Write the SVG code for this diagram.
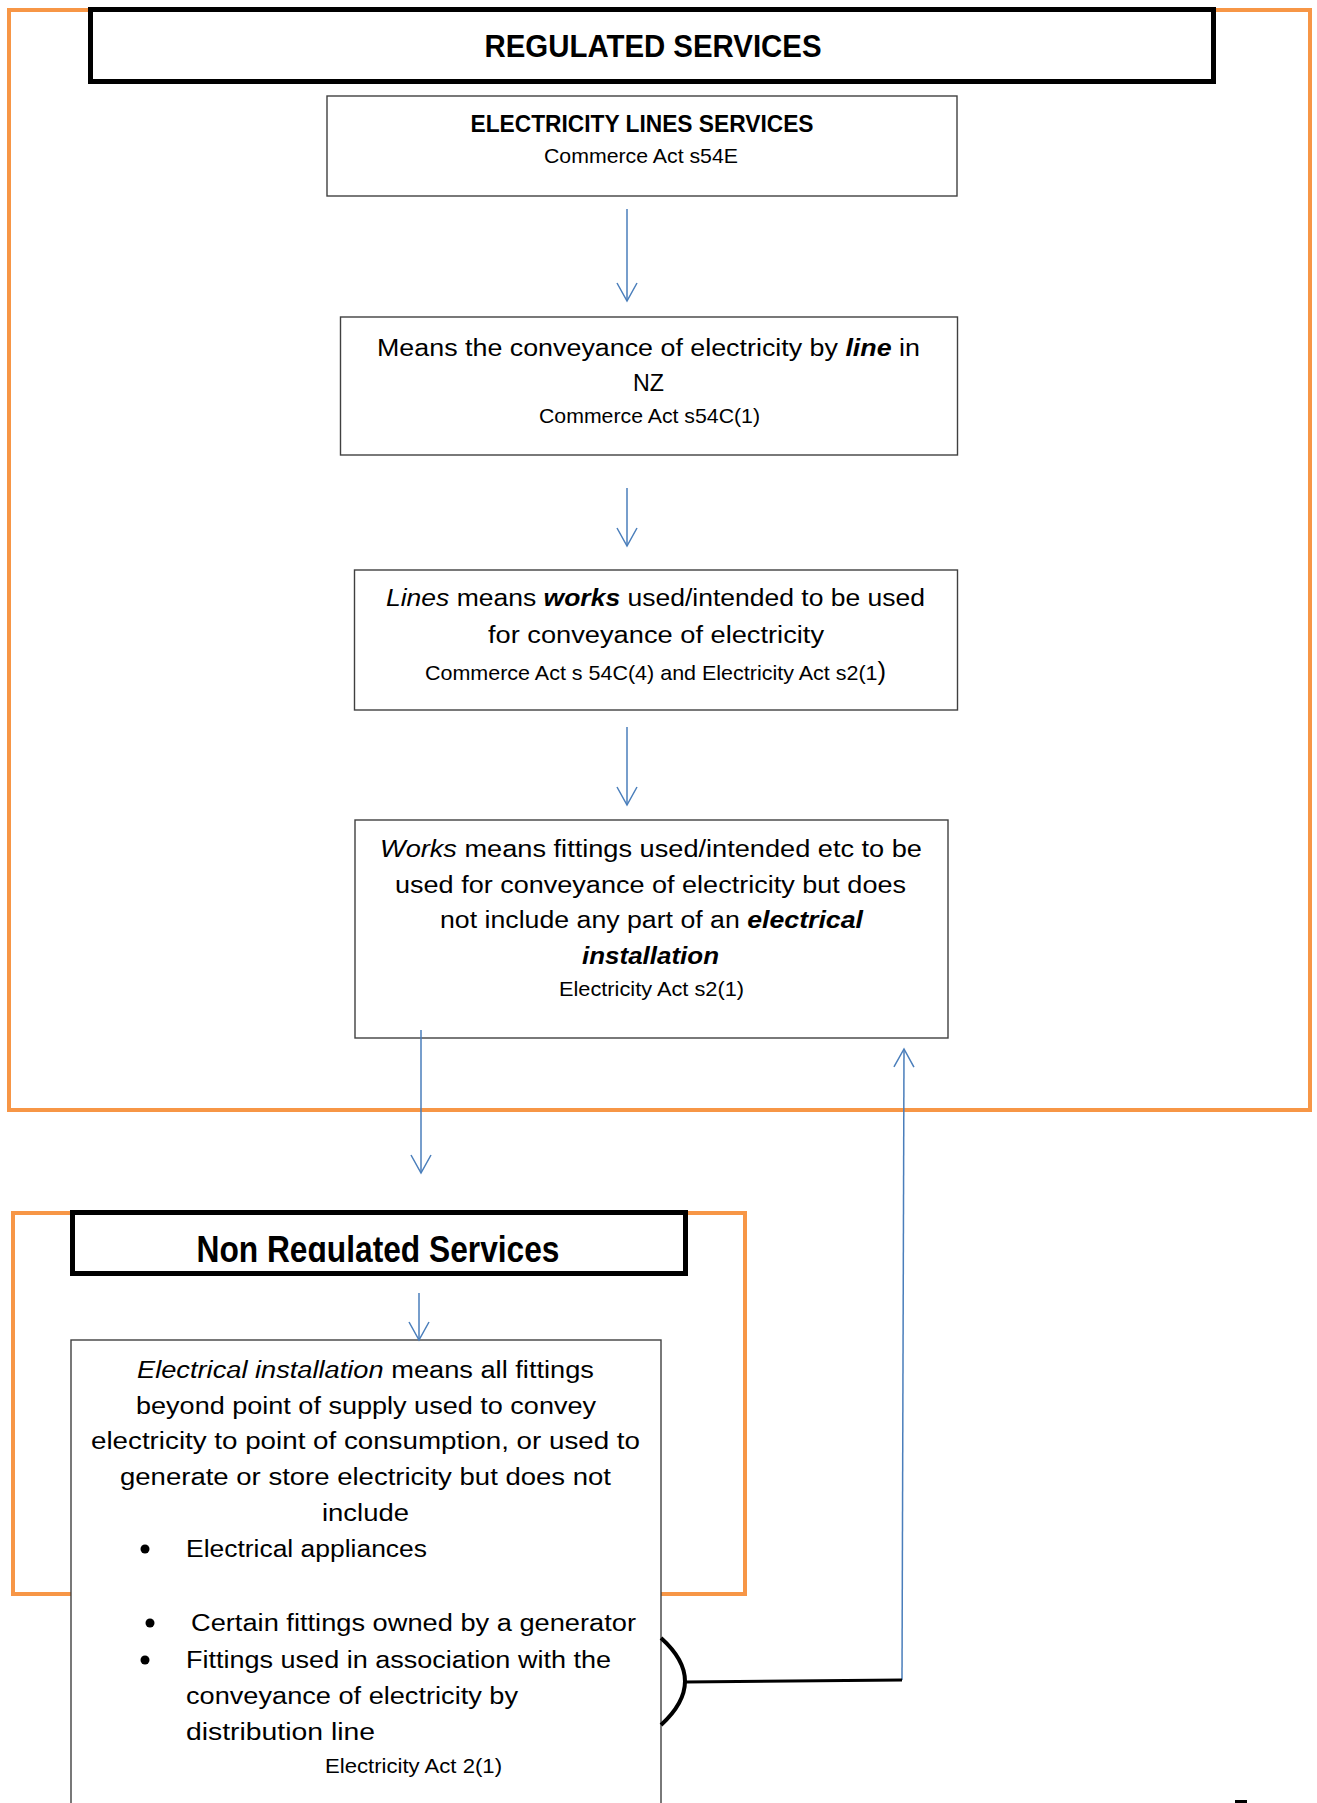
<svg xmlns="http://www.w3.org/2000/svg" width="1317" height="1803" viewBox="0 0 1317 1803">
<style>
text{font-family:"Liberation Sans",Arial,sans-serif;fill:#000}
.m{font-size:23.5px}
.s{font-size:21px}
.t{font-size:31px;font-weight:bold}
.h{font-size:24px;font-weight:bold}
.nr{font-size:37px;font-weight:bold}
.c{text-anchor:middle}
.i{font-style:italic}
.bi{font-style:italic;font-weight:bold}
.frame{fill:none;stroke:#F79646;stroke-width:4}
.title{fill:#fff;stroke:#000;stroke-width:5}
.box{fill:#fff;stroke:#404040;stroke-width:1.4}
.arr{fill:none;stroke:#4A7EBB;stroke-width:1.5;marker-end:url(#ah)}
</style>
<defs>
<marker id="ah" markerUnits="userSpaceOnUse" markerWidth="26" markerHeight="26" viewBox="-22 -13 26 26" refX="0" refY="0" orient="auto">
<path d="M-18,-10 L0,0 L-18,10" fill="none" stroke="#4A7EBB" stroke-width="1.5"/>
</marker>
<clipPath id="nrclip"><rect x="71" y="1211" width="616" height="51"/></clipPath>
</defs>
<rect width="1317" height="1803" fill="#fff"/>

<g id="regulated-frame">
<rect class="frame" x="9" y="10" width="1301" height="1100"/>
</g>
<g id="nonregulated-frame">
<rect class="frame" x="13" y="1213" width="732" height="381"/>
</g>

<g id="regulated-title">
<rect class="title" x="90.5" y="9.5" width="1123" height="72"/>
<text class="t c" x="653" y="57" textLength="337" lengthAdjust="spacingAndGlyphs">REGULATED SERVICES</text>
</g>

<g id="node-els">
<rect class="box" x="327" y="96" width="630" height="100"/>
<text class="h c" x="642" y="132" textLength="343" lengthAdjust="spacingAndGlyphs">ELECTRICITY LINES SERVICES</text>
<text class="s c" x="641" y="163" textLength="194" lengthAdjust="spacingAndGlyphs">Commerce Act s54E</text>
</g>

<g id="node-means">
<rect class="box" x="340.5" y="317" width="617" height="138"/>
<text class="m c" x="648.5" y="356" textLength="543" lengthAdjust="spacingAndGlyphs">Means the conveyance of electricity by <tspan class="bi">line</tspan> in</text>
<text class="m c" x="648.5" y="391" textLength="31" lengthAdjust="spacingAndGlyphs">NZ</text>
<text class="s c" x="649.5" y="423" textLength="221" lengthAdjust="spacingAndGlyphs">Commerce Act s54C(1)</text>
</g>

<g id="node-lines">
<rect class="box" x="354.5" y="570" width="603" height="140"/>
<text class="m c" x="655.5" y="606" textLength="539" lengthAdjust="spacingAndGlyphs"><tspan class="i">Lines</tspan> means <tspan class="bi">works</tspan> used/intended to be used</text>
<text class="m c" x="656" y="643" textLength="336" lengthAdjust="spacingAndGlyphs">for conveyance of electricity</text>
<text class="s c" x="655.5" y="680" textLength="461" lengthAdjust="spacingAndGlyphs">Commerce Act s 54C(4) and Electricity Act s2(1<tspan font-size="25">)</tspan></text>
</g>

<g id="node-works">
<rect class="box" x="355" y="820" width="593" height="218"/>
<text class="m c" x="651" y="857" textLength="542" lengthAdjust="spacingAndGlyphs"><tspan class="i">Works</tspan> means fittings used/intended etc to be</text>
<text class="m c" x="650.5" y="893" textLength="511" lengthAdjust="spacingAndGlyphs">used for conveyance of electricity but does</text>
<text class="m c" x="651.5" y="928" textLength="423" lengthAdjust="spacingAndGlyphs">not include any part of an <tspan class="bi">electrical</tspan></text>
<text class="m c bi" x="650.5" y="964" textLength="137" lengthAdjust="spacingAndGlyphs">installation</text>
<text class="s c" x="651.5" y="996" textLength="185" lengthAdjust="spacingAndGlyphs">Electricity Act s2(1)</text>
</g>

<g id="nonregulated-title">
<rect class="title" x="72.5" y="1212.5" width="613" height="61"/>
<text class="nr c" x="378" y="1262" textLength="363" lengthAdjust="spacingAndGlyphs" clip-path="url(#nrclip)">Non Regulated Services</text>
</g>

<g id="node-installation">
<rect class="box" x="71" y="1340" width="590" height="500"/>
<text class="m c" x="365.5" y="1378" textLength="457" lengthAdjust="spacingAndGlyphs"><tspan class="i">Electrical installation</tspan> means all fittings</text>
<text class="m c" x="366" y="1414" textLength="460" lengthAdjust="spacingAndGlyphs">beyond point of supply used to convey</text>
<text class="m c" x="365.5" y="1449" textLength="549" lengthAdjust="spacingAndGlyphs">electricity to point of consumption, or used to</text>
<text class="m c" x="365.5" y="1485" textLength="491" lengthAdjust="spacingAndGlyphs">generate or store electricity but does not</text>
<text class="m c" x="365.5" y="1521" textLength="87" lengthAdjust="spacingAndGlyphs">include</text>
<circle cx="145" cy="1549" r="4.5"/>
<text class="m" x="186" y="1557" textLength="241" lengthAdjust="spacingAndGlyphs">Electrical appliances</text>
<circle cx="150" cy="1623" r="4.5"/>
<text class="m" x="191" y="1631" textLength="445" lengthAdjust="spacingAndGlyphs">Certain fittings owned by a generator</text>
<circle cx="145" cy="1660" r="4.5"/>
<text class="m" x="186" y="1668" textLength="425" lengthAdjust="spacingAndGlyphs">Fittings used in association with the</text>
<text class="m" x="186" y="1704" textLength="332" lengthAdjust="spacingAndGlyphs">conveyance of electricity by</text>
<text class="m" x="186" y="1740" textLength="189" lengthAdjust="spacingAndGlyphs">distribution line</text>
<text class="s c" x="413.5" y="1773" textLength="177" lengthAdjust="spacingAndGlyphs">Electricity Act 2(1)</text>
</g>

<g id="connectors">
<line class="arr" x1="627" y1="209" x2="627" y2="301"/>
<line class="arr" x1="627" y1="488" x2="627" y2="546"/>
<line class="arr" x1="627" y1="727" x2="627" y2="805"/>
<line class="arr" x1="421" y1="1030" x2="421" y2="1173"/>
<line class="arr" x1="419" y1="1293" x2="419" y2="1340"/>
<line class="arr" x1="902" y1="1680" x2="904" y2="1049"/>
<path d="M661,1638 Q709,1681 661,1725" fill="none" stroke="#000" stroke-width="4"/>
<line x1="685" y1="1682" x2="902" y2="1680" stroke="#000" stroke-width="3"/>
</g>

<rect x="1235" y="1800" width="12" height="3" fill="#000"/>
</svg>
